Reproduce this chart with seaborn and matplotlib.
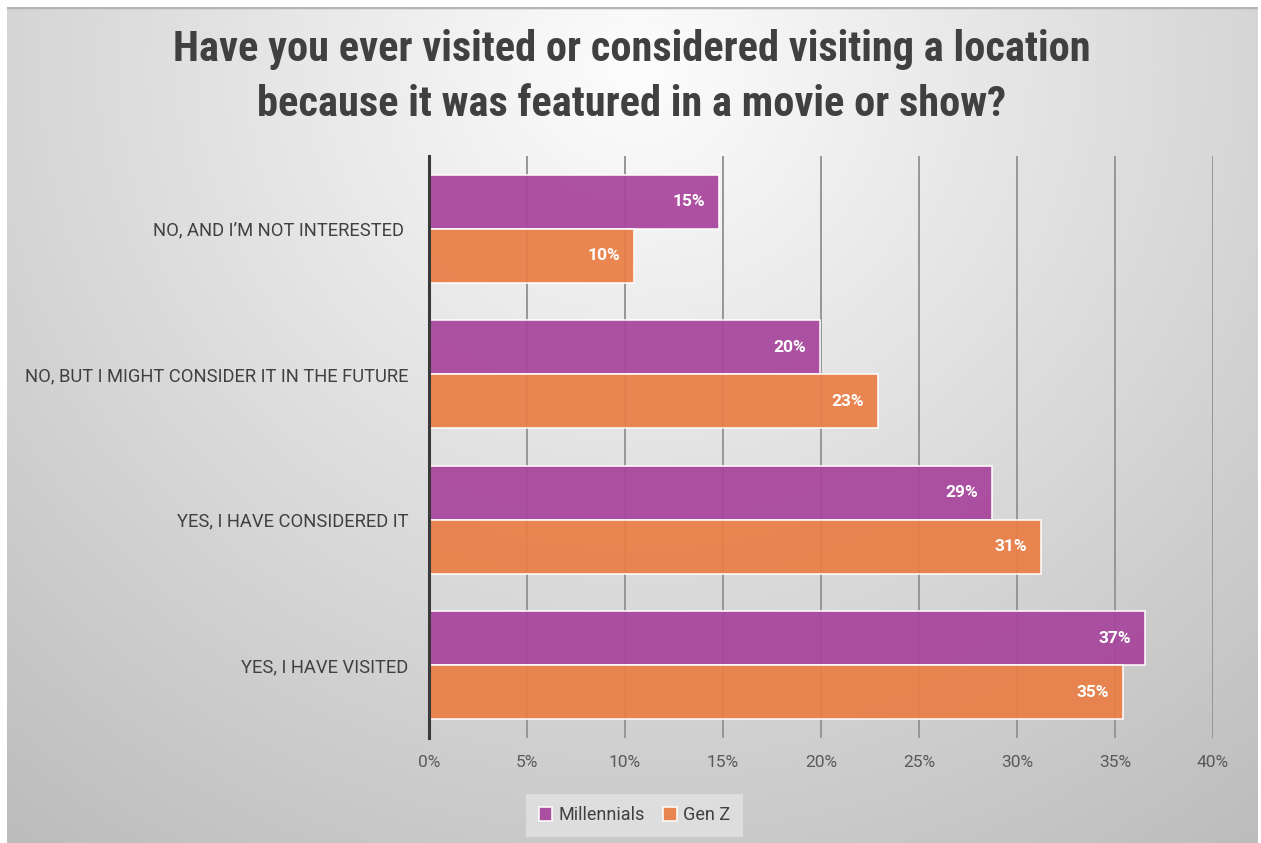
import numpy as np
import pandas as pd
import matplotlib
matplotlib.use("Agg")
import matplotlib.pyplot as plt
from matplotlib import font_manager
import seaborn as sns

# Survey data (share of respondents, %)
categories = [
    "NO, AND I\u2019M NOT INTERESTED ",
    "NO, BUT I MIGHT CONSIDER IT IN THE FUTURE",
    "YES, I HAVE CONSIDERED IT",
    "YES, I HAVE VISITED",
]
millennials = [14.8, 19.95, 28.7, 36.55]
gen_z = [10.45, 22.9, 31.2, 35.4]
series_names = ["Millennials", "Gen Z"]
x_ticks = [0, 5, 10, 15, 20, 25, 30, 35, 40]
title = "Have you ever visited or considered visiting a location\nbecause it was featured in a movie or show?"

colors = {"Millennials": "#A8449C", "Gen Z": "#E97E46"}

df = pd.DataFrame({
    "category": categories * 2,
    "series": [series_names[0]] * 4 + [series_names[1]] * 4,
    "value": millennials + gen_z,
})

sns.set_theme(style="white")
plt.rcParams["font.family"] = ["Roboto", "DejaVu Sans"]

# Narrow heading face if one is installed, else Roboto bold
installed = {f.name for f in font_manager.fontManager.ttflist}
title_family, title_size = "Roboto", 27
for fam, size in [("Roboto Condensed", 30.5), ("Liberation Sans Narrow", 30.5),
                  ("DejaVu Sans Condensed", 26)]:
    if fam in installed:
        title_family, title_size = fam, size
        break

W, H = 1261, 843
fig = plt.figure(figsize=(W / 100, H / 100), dpi=100)
fig.patch.set_facecolor("white")

# Soft radial grey background
bg = fig.add_axes([7 / W, 0, (1258 - 7) / W, (H - 7) / H])
bg.set_axis_off()
yy, xx = np.mgrid[0:836, 0:1251]
d = np.sqrt(((xx - 630) / 900.0) ** 2 + ((yy - 60) / 860.0) ** 2)
v = np.clip(253 - 57 * d, 180, 253) / 255.0
bg.imshow(np.dstack([v, v, v]), aspect="auto", extent=[0, 1, 0, 1], interpolation="bilinear")
bg.set_xlim(0, 1)
bg.set_ylim(0, 1)
bg.axhline(1, color="#b4b4b4", lw=2.5)

ax = fig.add_axes([429 / W, 1 - 738 / H, (1213 - 429) / W, (738 - 156) / H])
ax.set_facecolor("none")

sns.barplot(
    data=df, y="category", x="value", hue="series", orient="h",
    palette=colors, saturation=1, width=0.745, alpha=0.93, ax=ax,
    edgecolor=(1, 1, 1, 0.5), linewidth=1.2, legend=True, zorder=3,
)

ax.set_xlim(0, 40)
ax.set_xticks(x_ticks)
ax.set_xticklabels([f"{t}%" for t in x_ticks], fontsize=12.5, color="#595959")
ax.tick_params(axis="x", length=0, pad=12)
ax.tick_params(axis="y", length=0, pad=15)
for lab in ax.get_yticklabels():
    lab.set_fontsize(13.2)
    lab.set_color("#404040")
ax.set_xlabel("")
ax.set_ylabel("")

for t in x_ticks[1:]:
    ax.axvline(t, color="#969696", lw=1.4, zorder=1)
for s in ["top", "right", "bottom"]:
    ax.spines[s].set_visible(False)
ax.spines["left"].set_color("#3a3a3a")
ax.spines["left"].set_linewidth(2.2)
ax.spines["left"].set_zorder(5)

# Value labels inside the bar ends
for cont in ax.containers:
    for rect, val in zip(cont, cont.datavalues):
        ax.annotate(
            f"{val:.0f}%", xy=(val, rect.get_y() + rect.get_height() / 2),
            xytext=(-10, 0), textcoords="offset points",
            ha="right", va="center", color="white",
            fontsize=12.5, fontweight="bold", zorder=6,
        )

leg = ax.legend(
    loc="upper center", bbox_to_anchor=(0.262, -0.08), ncol=2,
    frameon=True, fancybox=False, fontsize=13, handlelength=0.75,
    handleheight=0.75, handletextpad=0.35, columnspacing=1.0,
    borderpad=0.7,
)
leg.get_frame().set_facecolor("#e6e6e6")
leg.get_frame().set_alpha(0.7)
leg.get_frame().set_edgecolor("none")
for txt in leg.get_texts():
    txt.set_color("#404040")

fig.text(
    632 / W, 1 - 77 / H, title, ha="center", va="center",
    fontsize=title_size, fontweight="bold", color="#404040",
    family=[title_family, "DejaVu Sans"], linespacing=1.42,
)

fig.savefig("out.png", dpi=100)
